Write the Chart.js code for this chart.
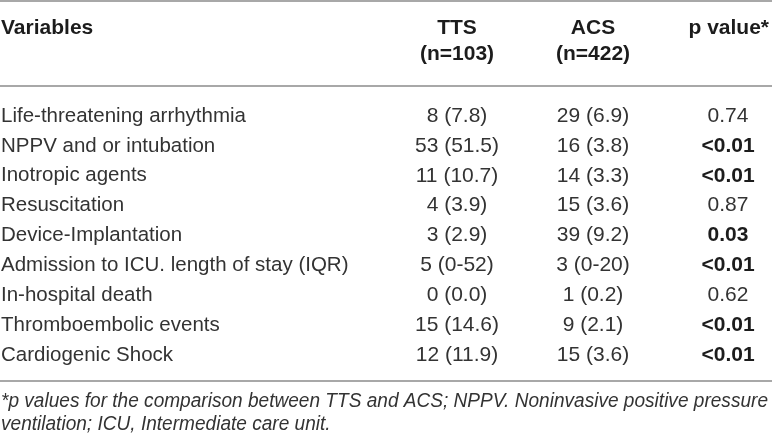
<!DOCTYPE html>
<html>
<head>
<meta charset="utf-8">
<script src="https://cdn.jsdelivr.net/npm/chart.js@4.4.1/dist/chart.umd.min.js"></script>
<style>
  html, body { margin: 0; padding: 0; background: #ffffff; }
  #wrap { position: relative; width: 772px; height: 441px; }
</style>
</head>
<body>
<div id="wrap"><canvas id="c"></canvas></div>
<script>
// ---- data ----
const variables = [
  "Life-threatening arrhythmia",
  "NPPV and or intubation",
  "Inotropic agents",
  "Resuscitation",
  "Device-Implantation",
  "Admission to ICU. length of stay (IQR)",
  "In-hospital death",
  "Thromboembolic events",
  "Cardiogenic Shock"
];
const ttsValues = ["8 (7.8)", "53 (51.5)", "11 (10.7)", "4 (3.9)", "3 (2.9)", "5 (0-52)", "0 (0.0)", "15 (14.6)", "12 (11.9)"];
const acsValues = ["29 (6.9)", "16 (3.8)", "14 (3.3)", "15 (3.6)", "39 (9.2)", "3 (0-20)", "1 (0.2)", "9 (2.1)", "15 (3.6)"];
const pValues = ["0.74", "<0.01", "<0.01", "0.87", "0.03", "<0.01", "0.62", "<0.01", "<0.01"];
const columnHeaders = [["Variables"], ["TTS", "(n=103)"], ["ACS", "(n=422)"], ["p value*"]];
const footnoteLines = [
  "*p values for the comparison between TTS and ACS; NPPV. Noninvasive positive pressure",
  "ventilation; ICU, Intermediate care unit."
];

// ---- layout / style (not data) ----
const W = 772, H = 441;
const COL_X = [1, 457, 593, 728];           // column anchors on the x scale
const COL_ALIGN = ["left", "center", "center", "center"];
const COL_FONT_SIZE = [20.5, 21, 21, 21];
const FIRST_ROW_Y = 116, LAST_ROW_Y = 355;
const FONT = "'Liberation Sans', Arial, Helvetica, sans-serif";
const TEXT_COLOR = "#333333";
const BOLD_COLOR = "#1c1c1c";
const RULE_COLOR = "#a8a8a8";

function isSignificant(p) {
  if (p.trim().startsWith("<")) return true;
  const v = parseFloat(p);
  return !isNaN(v) && v < 0.05;
}

const columns = [variables, ttsValues, acsValues, pValues];

const datasets = columns.map((col, ci) => ({
  label: "col" + ci,
  data: col.map((txt, ri) => ({ x: COL_X[ci], y: variables[ri], text: txt })),
  pointRadius: 0,
  pointHoverRadius: 0,
  showLine: false
}));

const tablePlugin = {
  id: "tableText",
  afterDatasetsDraw(chart) {
    const ctx = chart.ctx;
    const xs = chart.scales.x;
    ctx.save();
    ctx.textBaseline = "middle";

    // rules
    ctx.strokeStyle = RULE_COLOR;
    ctx.lineWidth = 2;
    const rule = (y) => { ctx.beginPath(); ctx.moveTo(0, y); ctx.lineTo(W, y); ctx.stroke(); };
    rule(1);
    rule(86);
    rule(381);

    // header
    ctx.fillStyle = BOLD_COLOR;
    ctx.font = "bold 21px " + FONT;
    columnHeaders.forEach((lines, ci) => {
      let x = xs.getPixelForValue(COL_X[ci]);
      let align = COL_ALIGN[ci];
      if (ci === 3) { x = 769; align = "right"; }
      ctx.textAlign = align;
      lines.forEach((t, li) => ctx.fillText(t, x, 28 + li * 26));
    });

    // cells, positioned by the chart's own elements
    chart.data.datasets.forEach((ds, ci) => {
      const meta = chart.getDatasetMeta(ci);
      ctx.textAlign = COL_ALIGN[ci];
      meta.data.forEach((pt, ri) => {
        const txt = ds.data[ri].text;
        const bold = ci === 3 && isSignificant(txt);
        ctx.font = (bold ? "bold " : "") + COL_FONT_SIZE[ci] + "px " + FONT;
        ctx.fillStyle = bold ? BOLD_COLOR : TEXT_COLOR;
        ctx.fillText(txt, pt.x, pt.y);
      });
    });

    // footnote (condensed italic)
    ctx.font = "italic 20px " + FONT;
    ctx.fillStyle = TEXT_COLOR;
    ctx.textAlign = "left";
    const w0 = ctx.measureText(footnoteLines[0]).width;
    const sx = Math.min(1, 767 / w0);
    footnoteLines.forEach((t, i) => {
      ctx.save();
      ctx.translate(1, 401 + i * 23);
      ctx.scale(sx, 1);
      ctx.fillText(t, 0, 0);
      ctx.restore();
    });
    ctx.restore();
  }
};

new Chart(document.getElementById("c"), {
  type: "scatter",
  data: { labels: variables, datasets },
  options: {
    responsive: true,
    maintainAspectRatio: false,
    animation: false,
    events: [],
    layout: { padding: { left: 0, right: 0, top: FIRST_ROW_Y, bottom: H - LAST_ROW_Y } },
    plugins: { legend: { display: false }, tooltip: { enabled: false } },
    scales: {
      x: { type: "linear", min: 0, max: W, display: false },
      y: { type: "category", labels: variables, offset: false, display: false }
    }
  },
  plugins: [tablePlugin]
});
</script>
</body>
</html>
